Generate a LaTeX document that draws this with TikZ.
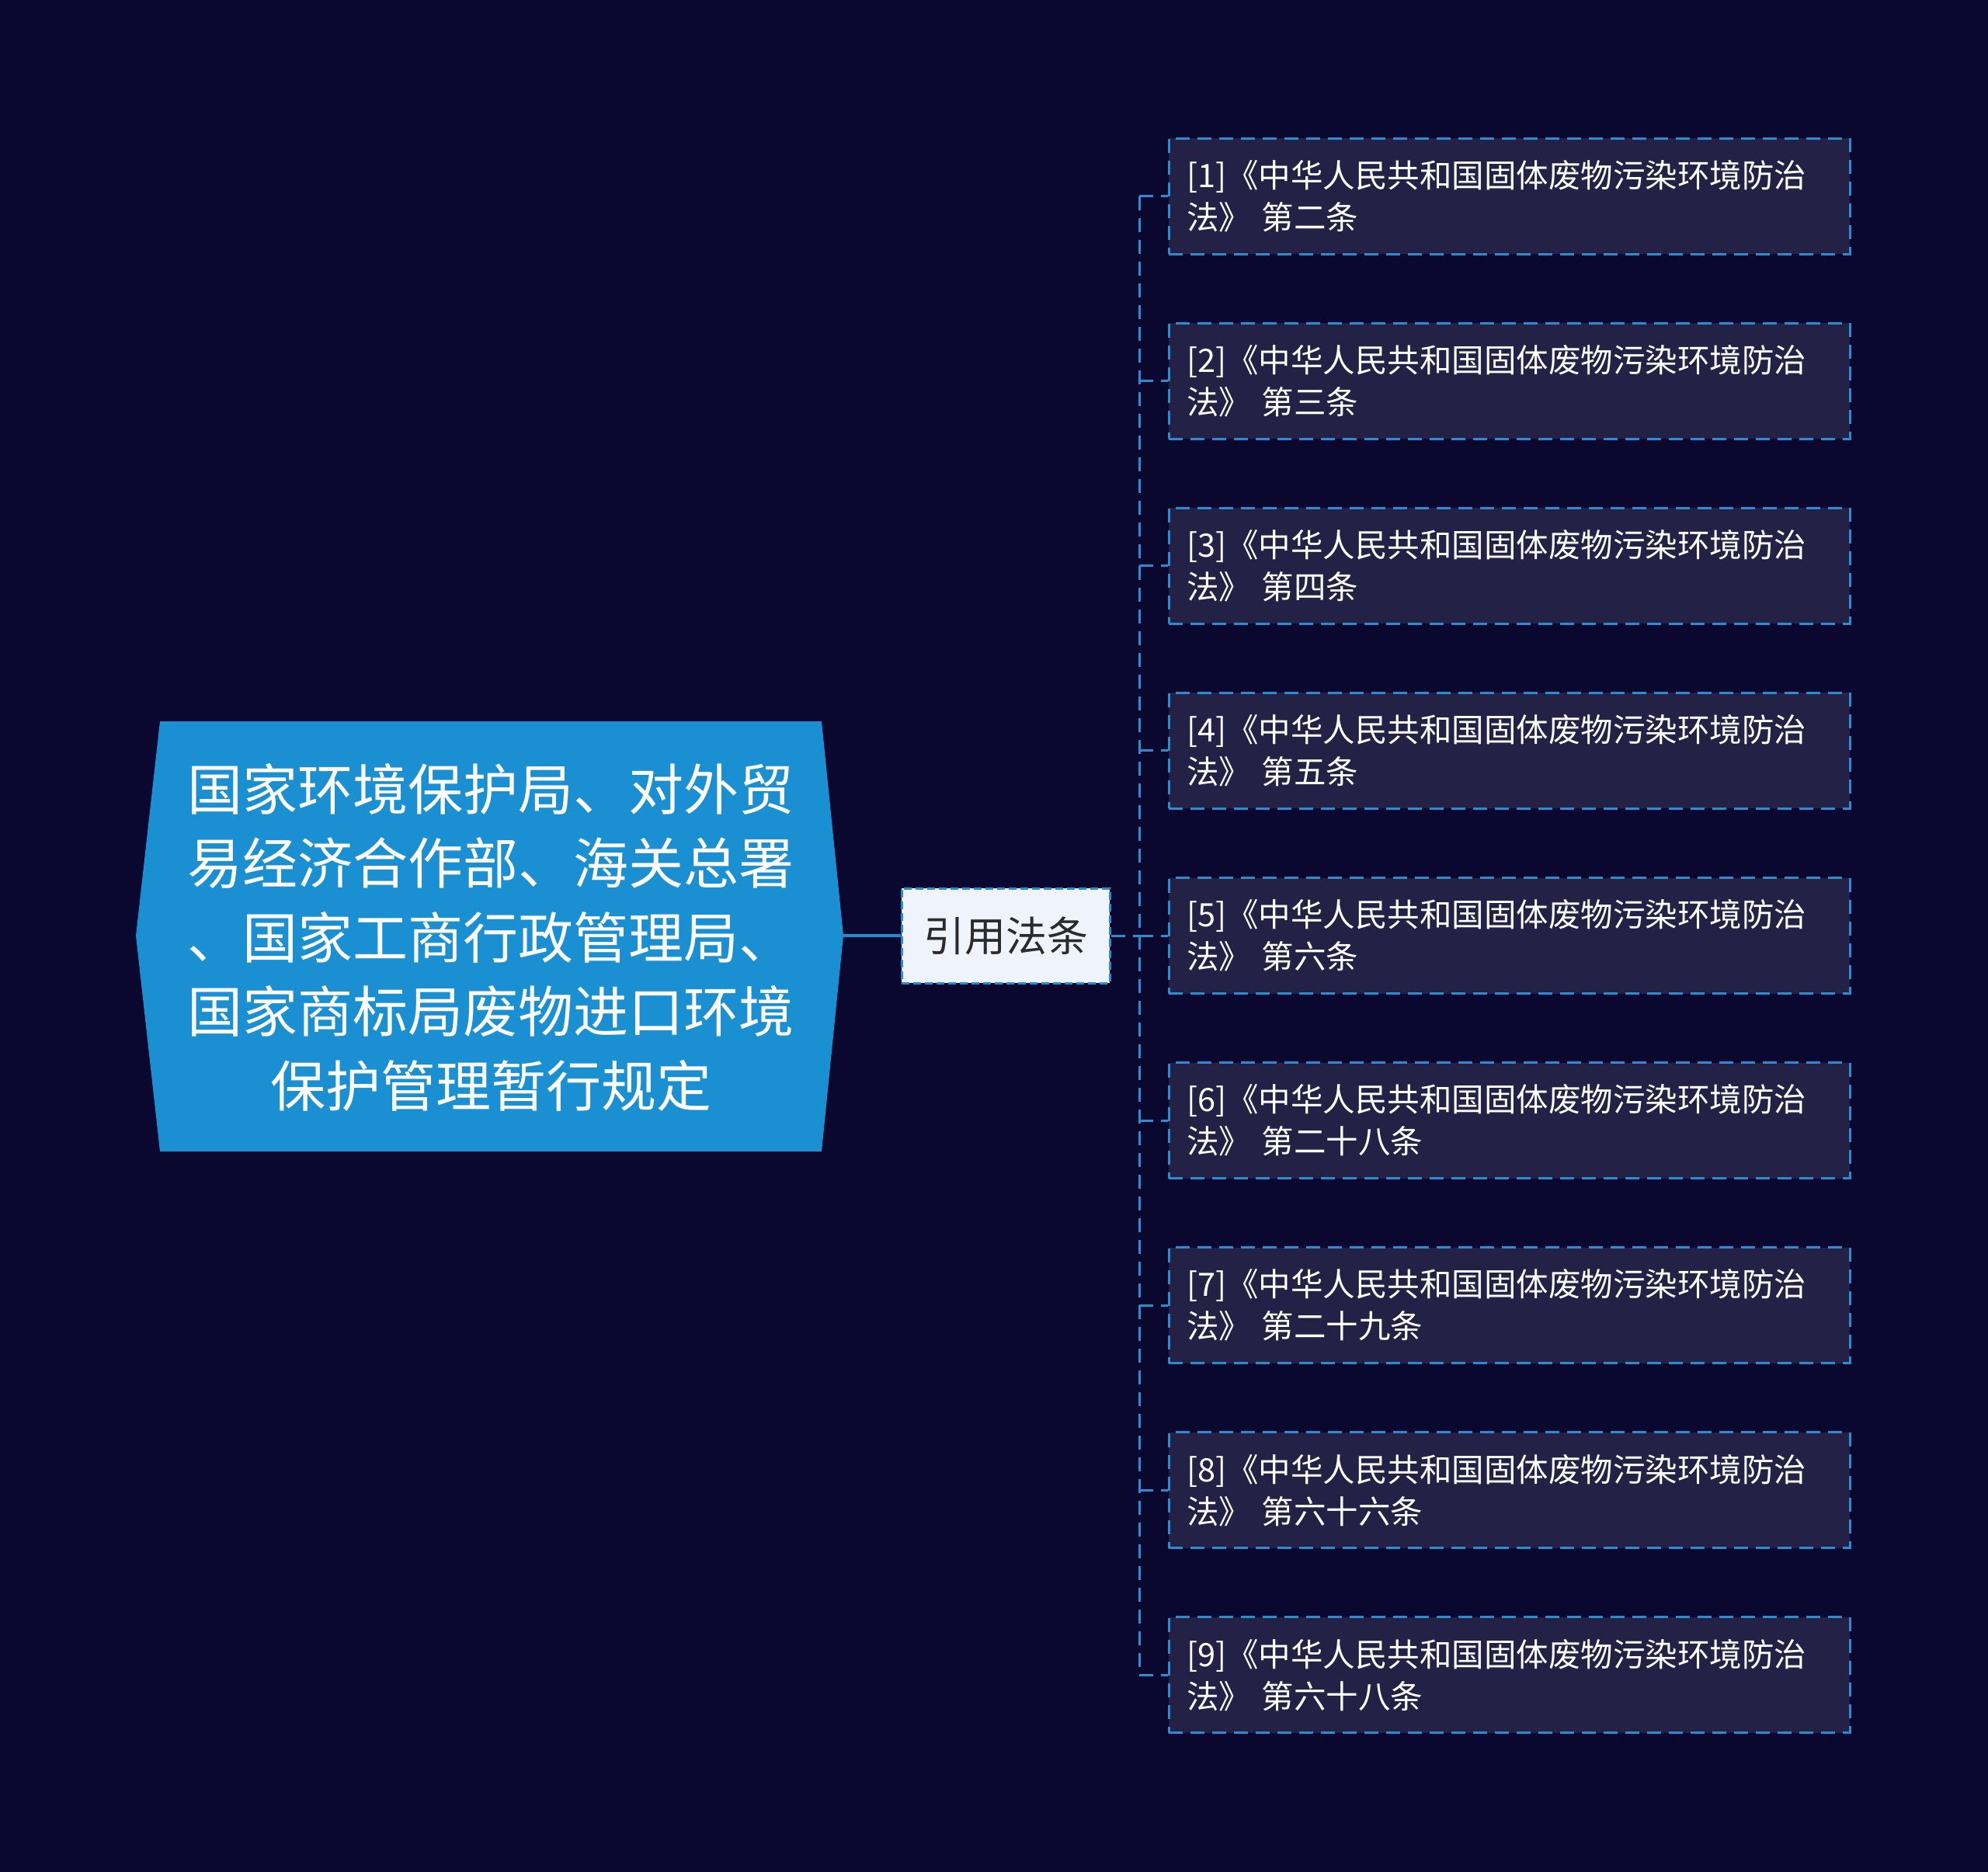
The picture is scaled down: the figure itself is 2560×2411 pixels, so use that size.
\documentclass[tikz,border=0pt]{standalone}
\usepackage{fontspec}
\setmainfont{Noto Sans CJK SC}
\definecolor{bgc}{HTML}{0B0830}
\definecolor{mainblue}{HTML}{1A90D2}
\definecolor{lineblue}{HTML}{2A8DD0}
\definecolor{leaffill}{HTML}{242147}
\definecolor{midfill}{HTML}{EEF3FC}
\definecolor{midtext}{HTML}{2B2B2B}
\tikzset{
  leafbox/.style={draw=lineblue, line width=3pt, dash pattern=on 18pt off 10pt, fill=leaffill,
    minimum width=877pt, minimum height=149pt, text width=831pt, inner xsep=23pt, align=left,
    text=white, font=\fontsize{41.5}{54}\selectfont},
  midbox/.style={draw=lineblue, line width=3pt, dash pattern=on 10pt off 5pt, fill=midfill,
    minimum width=268pt, minimum height=122pt, text=midtext, font=\fontsize{53}{60}\selectfont},
  conn/.style={draw=lineblue, line width=3pt, dash pattern=on 18pt off 10pt},
}
\begin{document}
\begin{tikzpicture}[x=1pt,y=-1pt]
\useasboundingbox[fill=bgc] (0,0) rectangle (2560,2411);
% main node shape
\fill[mainblue] (175,1205) -- (206,929) -- (1058,929) -- (1086,1205) -- (1058,1483) -- (206,1483) -- cycle;
\node[text=white, align=center, font=\fontsize{71}{95.5}\selectfont] (main) at (632,1207)
  {国家环境保护局、对外贸\\易经济合作部、海关总署\\、国家工商行政管理局、\\国家商标局废物进口环境\\保护管理暂行规定};
\coordinate (mainR) at (1086,1205);
% middle node
\node[midbox] (mid) at (1295,1205) {引用法条};
\draw[draw=mainblue, line width=4pt] (mainR) -- (mid.west);
% trunk
\coordinate (trunkTop) at (1467,253);
\coordinate (trunkBot) at (1467,2157);
\coordinate (trunkMid) at (1467,1205);
\draw[conn] (mid.east) -- (trunkMid);
\draw[conn] (trunkTop) -- (trunkBot);
% leaves
\foreach \i/\t in {1/第二条,2/第三条,3/第四条,4/第五条,5/第六条,6/第二十八条,7/第二十九条,8/第六十六条,9/第六十八条}{
  \pgfmathsetmacro{\yc}{1205+(\i-5)*238.1}
  \node[leafbox] (leaf\i) at (1943.5,\yc) {[\i]《中华人民共和国固体废物污染环境防治\\法》 \t};
  \coordinate (tj\i) at (1467,\yc);
  \draw[conn] (tj\i) -- (leaf\i.west);
}
\end{tikzpicture}
\end{document}
